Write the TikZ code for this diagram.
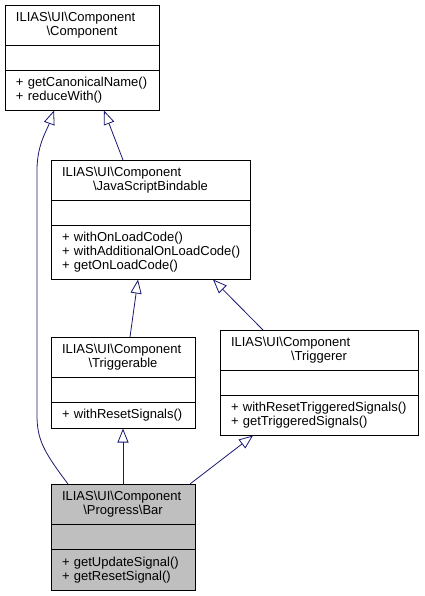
\documentclass[tikz,border=0pt]{standalone}
\usepackage{fontspec}
\setmainfont{Liberation Sans}
\usetikzlibrary{positioning,arrows.meta}
\definecolor{edgeblue}{HTML}{191970}
\definecolor{barfill}{HTML}{BFBFBF}
\newcommand{\bs}{\textbackslash}
\newcommand{\firstline}[1]{\makebox[\hsize][l]{#1}}
\tikzset{
  cls/.style={draw=black, line width=.9pt, inner xsep=11pt, inner ysep=0pt, outer sep=0pt,
    text width=#1, font=\fontsize{13pt}{14pt}\selectfont,
    execute at begin node={\hyphenpenalty=10000\exhyphenpenalty=10000}},
  ttl/.style={cls=#1, minimum height=40.5pt, align=center},
  att/.style={cls=#1, minimum height=25pt},
  mth/.style={cls=#1, align=left},
  isa/.style={draw=edgeblue, line width=.8pt, -{Triangle[open,length=14pt,width=11pt]}}
}
\begin{document}
\begin{tikzpicture}[x=1pt,y=-1pt]
  \useasboundingbox (0,0) rectangle (424,596);

  \node[ttl=132, anchor=north west] (cmp) at (5,5)
    {\firstline{ILIAS\bs UI\bs Component}\\\bs Component};
  \node[att=132, below=0pt of cmp] (cmp-a) {};
  \node[mth=132, minimum height=40pt, below=0pt of cmp-a] (cmp-m)
    {+~getCanonicalName()\\+~reduceWith()};

  \node[ttl=177, anchor=north west] (jsb) at (51,160)
    {\firstline{ILIAS\bs UI\bs Component}\\\bs JavaScriptBindable};
  \node[att=177, below=0pt of jsb] (jsb-a) {};
  \node[mth=177, minimum height=54pt, below=0pt of jsb-a] (jsb-m)
    {+~withOnLoadCode()\\+~withAdditionalOnLoadCode()\\+~getOnLoadCode()};

  \node[ttl=122, anchor=north west] (trg) at (51,337)
    {\firstline{ILIAS\bs UI\bs Component}\\\bs Triggerable};
  \node[att=122, below=0pt of trg] (trg-a) {};
  \node[mth=122, minimum height=26pt, below=0pt of trg-a] (trg-m)
    {+~withResetSignals()};

  \node[ttl=176, anchor=north west] (trr) at (220,330)
    {\firstline{ILIAS\bs UI\bs Component}\\\bs Triggerer};
  \node[att=176, below=0pt of trr] (trr-a) {};
  \node[mth=176, minimum height=40pt, below=0pt of trr-a] (trr-m)
    {+~withResetTriggeredSignals()\\+~getTriggeredSignals()};

  \begin{scope}[every node/.append style={fill=barfill}]
    \node[ttl=122, anchor=north west] (bar) at (51,484)
      {\firstline{ILIAS\bs UI\bs Component}\\\bs Progress\bs Bar};
    \node[att=122, below=0pt of bar] (bar-a) {};
    \node[mth=122, minimum height=41pt, below=0pt of bar-a] (bar-m)
      {+~getUpdateSignal()\\+~getResetSignal()};
  \end{scope}

  \draw[isa] ([xshift=-27.5pt]jsb.north) -- ([xshift=22pt]cmp-m.south);
  \draw[isa] ([xshift=-55pt]bar.north) .. controls (44,452) and (37,440) .. (37,415)
    -- (37,170) .. controls (37,145) and (47,130) .. ([xshift=-28pt]cmp-m.south);
  \draw[isa] ([xshift=7pt]trg.north) -- ([xshift=-12.5pt]jsb-m.south);
  \draw[isa] ([xshift=-56pt]trr.north) -- ([xshift=62.5pt]jsb-m.south);
  \draw[isa] (bar.north) -- (trg-m.south);
  \draw[isa] ([xshift=67pt]bar.north) -- ([xshift=-66pt]trr-m.south);
\end{tikzpicture}
\end{document}
